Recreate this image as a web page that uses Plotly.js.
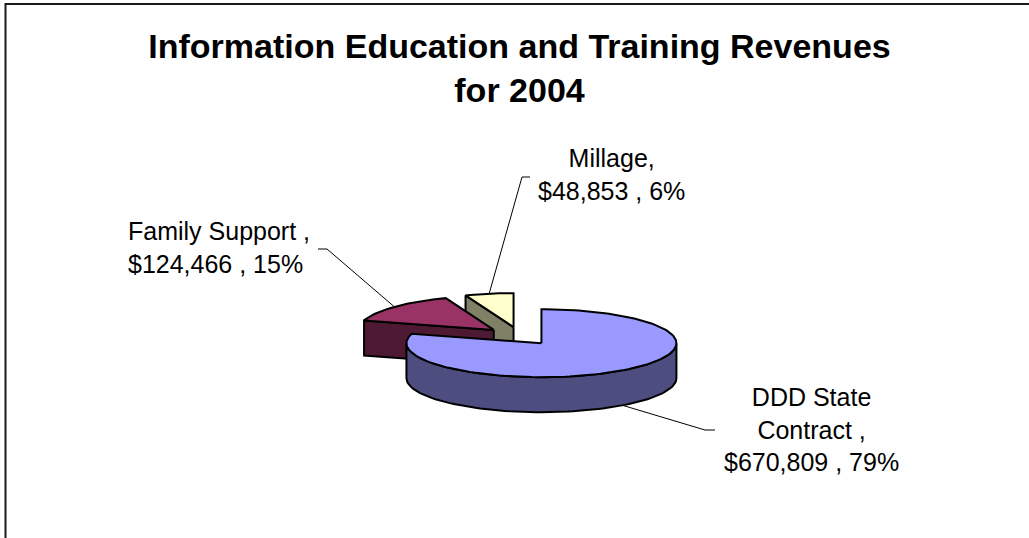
<!DOCTYPE html>
<html>
<head>
<meta charset="utf-8">
<script src="https://cdn.plot.ly/plotly-3.0.1.min.js"></script>
<style>
  html, body { margin: 0; padding: 0; background: #fff; }
  #chart { width: 1029px; height: 538px; }
</style>
</head>
<body>
<div id="chart"></div>
<script>
// ---- data ----
const names = ["DDD State<br>Contract ", "Family Support ", "Millage"];
const values = [670809, 124466, 48853];
const topColors = ["#9999FF", "#993366", "#FFFFCC"];
const sideColors = ["#4D4D80", "#4D1933", "#808066"];
const chartTitle = "<b>Information Education and Training Revenues<br>for 2004</b>";

// ---- layout of the 3D pie (pixels) ----
const CX = 520, CY = 336, RX = 135, RY = 34, DEPTH = 35, EXPLODE = 0.264;
const drawOrder = [2, 1, 0];
// label boxes and leader line elbows
const labelPos = [
  {x: 811, y: 381, xanchor: 'center', align: 'center', elbow: [705, 430], end: [715, 430]},
  {x: 126, y: 215, xanchor: 'left', align: 'left', elbow: [327, 249], end: [318, 249]},
  {x: 611, y: 142, xanchor: 'center', align: 'center', elbow: [522, 177], end: [530, 177]}
];

const total = values.reduce((s, v) => s + v, 0);
const rad = d => d * Math.PI / 180;
const traces = [];
const slices = [];
let acc = 0;
values.forEach((v, i) => {
  const a1 = acc, a2 = acc + v / total * 360;
  acc = a2;
  const am = (a1 + a2) / 2;
  const px = CX + EXPLODE * RX * Math.sin(rad(am));
  const py = CY - EXPLODE * RY * Math.cos(rad(am));
  slices.push({a1, a2, am, px, py});
});
function rim(s, ang, dz) {
  return [s.px + RX * Math.sin(rad(ang)), s.py - RY * Math.cos(rad(ang)) + dz];
}
function poly(pts, fill) {
  traces.push({
    type: 'scatter', mode: 'lines',
    x: pts.map(p => p[0]).concat([pts[0][0]]),
    y: pts.map(p => p[1]).concat([pts[0][1]]),
    fill: 'toself', fillcolor: fill,
    line: {color: '#000', width: 2},
    hoverinfo: 'skip', showlegend: false
  });
}
drawOrder.forEach(i => {
  const s = slices[i];
  // cut face at start angle
  if (Math.sin(rad(s.a1)) < -1e-6) {
    const r = rim(s, s.a1, 0), rb = rim(s, s.a1, DEPTH);
    poly([[s.px, s.py], r, rb, [s.px, s.py + DEPTH]], sideColors[i]);
  }
  // cut face at end angle
  if (Math.sin(rad(s.a2)) > 1e-6) {
    const r = rim(s, s.a2, 0), rb = rim(s, s.a2, DEPTH);
    poly([[s.px, s.py], r, rb, [s.px, s.py + DEPTH]], sideColors[i]);
  }
  // outer curved side (front half)
  const f1 = Math.max(s.a1, 90), f2 = Math.min(s.a2, 270);
  if (f2 > f1) {
    const topArc = [], botArc = [];
    for (let a = f1; a <= f2 + 1e-9; a += (f2 - f1) / 80) {
      topArc.push(rim(s, a, 0));
      botArc.push(rim(s, a, DEPTH));
    }
    poly(topArc.concat(botArc.reverse()), sideColors[i]);
  }
  // top face
  const top = [[s.px, s.py]];
  const n = Math.max(8, Math.round((s.a2 - s.a1) / 2));
  for (let k = 0; k <= n; k++) top.push(rim(s, s.a1 + (s.a2 - s.a1) * k / n, 0));
  poly(top, topColors[i]);
});

// leader lines and labels
const annotations = [];
slices.forEach((s, i) => {
  const front = -Math.cos(rad(s.am)) > 0;
  const st = rim(s, s.am, front ? DEPTH : 0);
  const L = labelPos[i];
  traces.push({
    type: 'scatter', mode: 'lines',
    x: [st[0], L.elbow[0], L.end[0]], y: [st[1], L.elbow[1], L.end[1]],
    line: {color: '#000', width: 1}, hoverinfo: 'skip', showlegend: false
  });
  const pct = Math.round(values[i] / total * 100);
  const txt = names[i] + ",<br>$" + values[i].toLocaleString('en-US') + " , " + pct + "%";
  annotations.push({
    xref: 'x', yref: 'y', x: L.x, y: L.y, xanchor: L.xanchor, yanchor: 'top',
    align: L.align, text: txt, showarrow: false,
    font: {family: 'Liberation Sans, Arial, sans-serif', size: 25, color: '#000'}
  });
});

const layout = {
  width: 1029, height: 538,
  margin: {l: 0, r: 0, t: 0, b: 0},
  paper_bgcolor: '#fff', plot_bgcolor: '#fff',
  title: {
    text: chartTitle, x: 519.5 / 1029, xanchor: 'center',
    y: 1 - 58 / 538, yanchor: 'top',
    font: {family: 'Liberation Sans, Arial, sans-serif', size: 34, color: '#000'}
  },
  xaxis: {range: [0, 1029], visible: false, fixedrange: true},
  yaxis: {range: [538, 0], visible: false, fixedrange: true},
  annotations: annotations,
  shapes: [{
    type: 'rect', xref: 'x', yref: 'y', x0: 5.5, y0: 4, x1: 1200, y1: 700,
    line: {color: '#1a1a1a', width: 2}, layer: 'below'
  }],
  showlegend: false
};
Plotly.newPlot('chart', traces, layout, {displayModeBar: false, staticPlot: true});
</script>
</body>
</html>
